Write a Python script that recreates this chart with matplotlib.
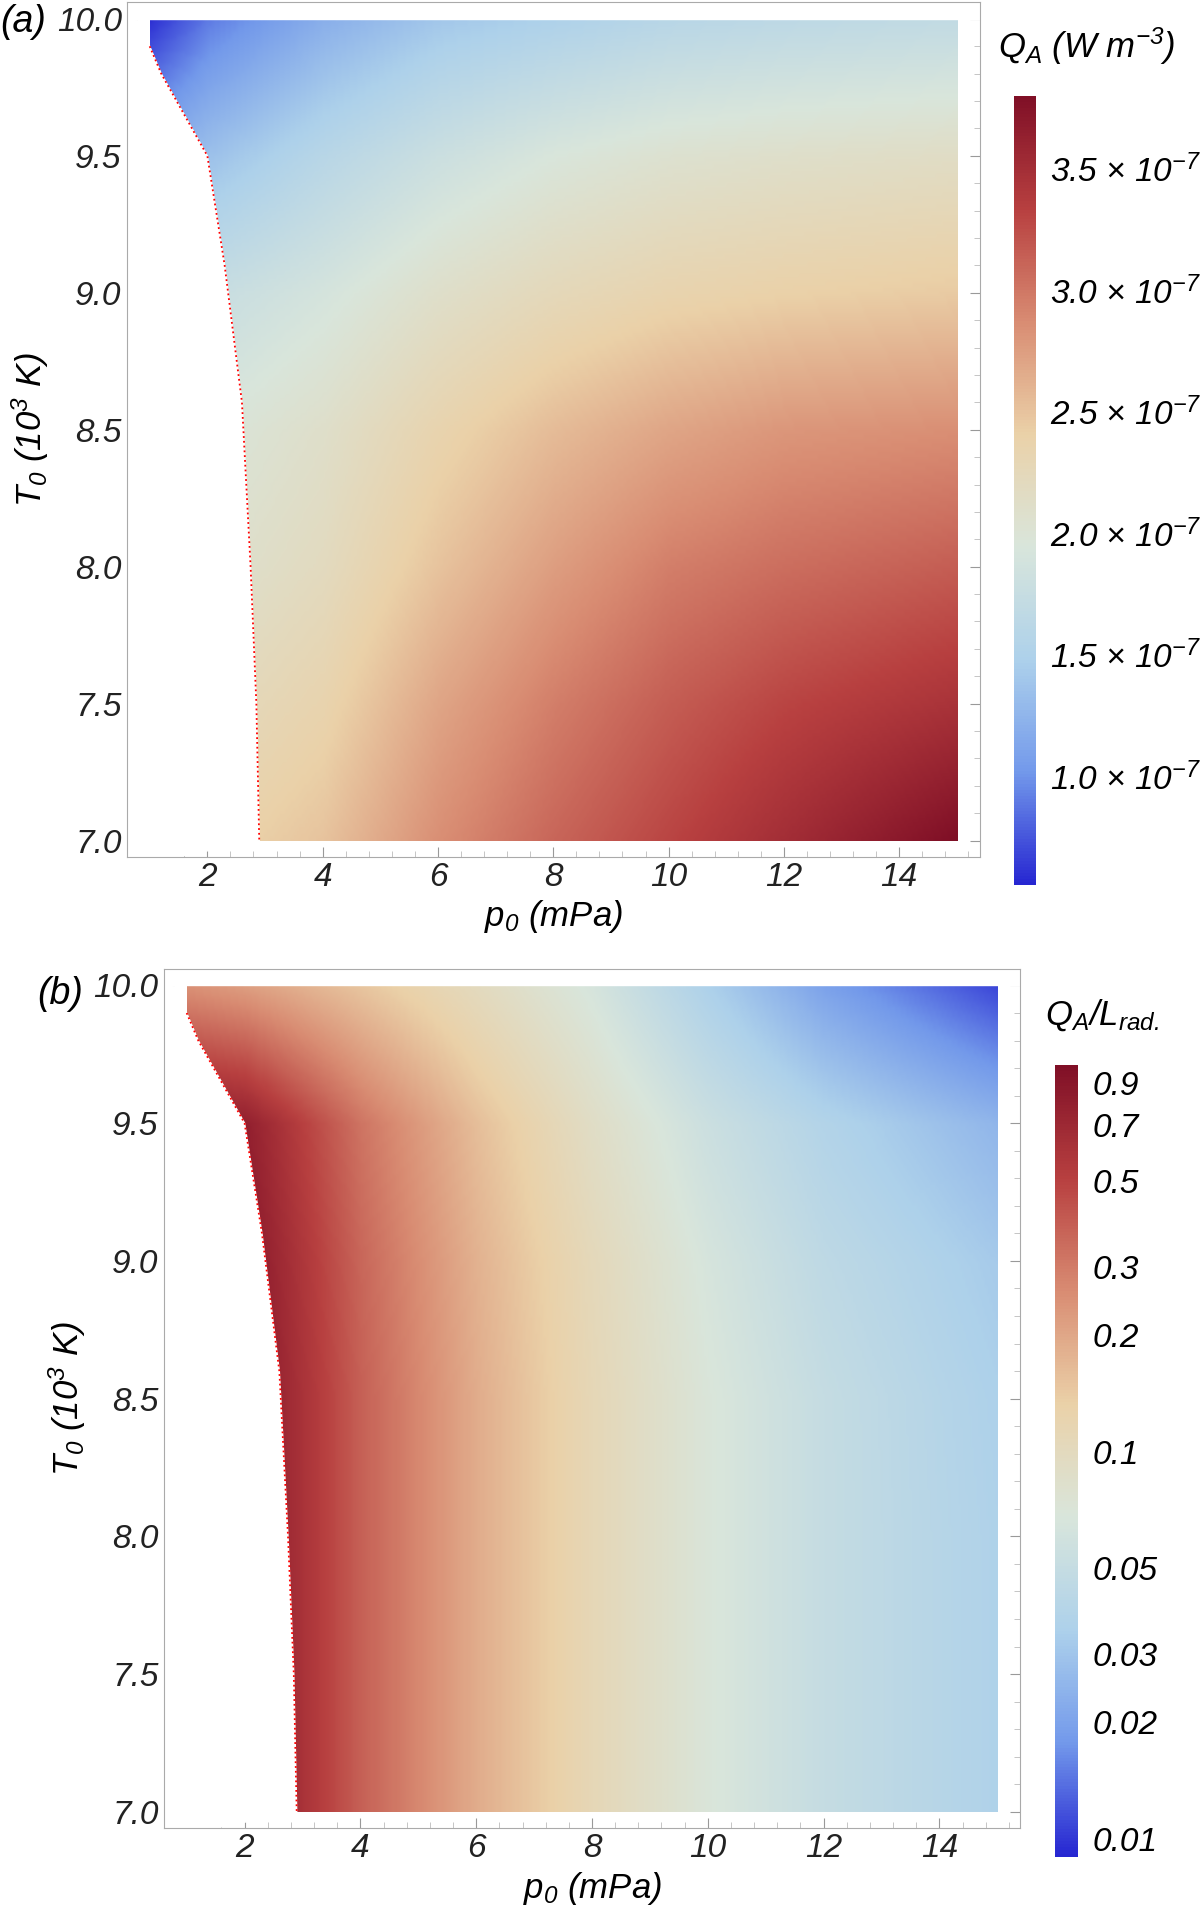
import numpy as np
import matplotlib.pyplot as plt
from matplotlib.colors import LinearSegmentedColormap, LogNorm, Normalize
from matplotlib.ticker import AutoMinorLocator, FixedLocator, NullLocator

plt.rcParams['font.family'] = 'Liberation Sans'
plt.rcParams['font.style'] = 'italic'
plt.rcParams['mathtext.fontset'] = 'custom'
plt.rcParams['mathtext.it'] = 'Liberation Sans:italic'
plt.rcParams['mathtext.rm'] = 'Liberation Sans:italic'
plt.rcParams['mathtext.default'] = 'it'

# grid nodes
p_nodes = [1, 2, 4, 6, 8, 10, 12, 15]
T_nodes = [7.0, 7.5, 8.0, 8.5, 9.0, 9.5, 10.0]

# Q_A in 1e-7 W m^-3 (rows: T_nodes, cols: p_nodes)
qa_vals = [
    [2.3, 2.35, 2.5, 2.85, 3.1, 3.3, 3.5, 3.8],
    [2.15, 2.2, 2.35, 2.7, 2.95, 3.15, 3.3, 3.45],
    [2.0, 2.05, 2.2, 2.5, 2.75, 2.95, 3.05, 3.15],
    [1.9, 1.95, 2.1, 2.35, 2.55, 2.7, 2.8, 2.85],
    [1.65, 1.75, 1.9, 2.1, 2.25, 2.35, 2.4, 2.45],
    [1.2, 1.35, 1.6, 1.8, 1.95, 2.05, 2.1, 2.15],
    [0.6, 0.9, 1.2, 1.4, 1.5, 1.6, 1.65, 1.7],
]

# Q_A / L_rad
ratio_vals = [
    [0.95, 0.95, 0.38, 0.19, 0.11, 0.07, 0.05, 0.036],
    [0.95, 0.95, 0.38, 0.19, 0.11, 0.07, 0.05, 0.036],
    [0.95, 0.95, 0.38, 0.19, 0.11, 0.07, 0.05, 0.036],
    [0.95, 0.95, 0.38, 0.19, 0.11, 0.07, 0.05, 0.035],
    [0.95, 0.9, 0.36, 0.18, 0.105, 0.065, 0.045, 0.032],
    [0.9, 0.8, 0.32, 0.16, 0.09, 0.055, 0.038, 0.025],
    [0.25, 0.22, 0.15, 0.1, 0.065, 0.035, 0.02, 0.011],
]

# left edge of the valid region
edge_p = [1.0, 1.2, 1.6, 2.0, 2.3, 2.6, 2.75, 2.85, 2.9]
edge_T = [9.9, 9.8, 9.65, 9.5, 9.1, 8.6, 8.0, 7.5, 7.0]

cmap = LinearSegmentedColormap.from_list('temp', [
    (0.15, 0.15, 0.82), (0.45, 0.6, 0.92), (0.68, 0.82, 0.92),
    (0.85, 0.9, 0.86), (0.92, 0.82, 0.66), (0.85, 0.55, 0.45),
    (0.72, 0.25, 0.25), (0.5, 0.06, 0.15)])

W, H = 976, 1568
fig = plt.figure(figsize=(12, 19.28), dpi=100)


def rect(l, t, r, b):
    return [l / W, 1 - b / H, (r - l) / W, (b - t) / H]


def fine_grid(vals, log=False):
    # piecewise linear resampling of the read nodes onto the plotting grid
    pf = np.linspace(1, 15, 300)
    Tf = np.linspace(7, 10, 200)
    v = np.array(vals, float)
    if log:
        v = np.log10(v)
    rows = np.array([np.interp(pf, p_nodes, r) for r in v])
    out = np.array([np.interp(Tf, T_nodes, rows[:, j]) for j in range(len(pf))]).T
    return 10 ** out if log else out


def panel(ax, vals, norm, log, label, lx, ly):
    data = fine_grid(vals, log)
    im = ax.imshow(data, origin='lower', extent=[1, 15, 7, 10], aspect='auto',
                   cmap=cmap, norm=norm, interpolation='bilinear')
    poly_p = [0.5] + edge_p + [0.5]
    poly_T = [10.1] + edge_T + [6.9]
    ax.fill(poly_p + [0.5], poly_T + [10.1], color='white', zorder=2)
    ax.fill_between([0.5, 15.5], 10.0, 10.2, color='white', zorder=2)
    ax.plot(edge_p, edge_T, color='red', ls=':', lw=1.3, zorder=3)
    ax.set_xlim(0.6, 15.4)
    ax.set_ylim(6.94, 10.06)
    ax.set_xticks([2, 4, 6, 8, 10, 12, 14])
    ax.set_yticks([7.0, 7.5, 8.0, 8.5, 9.0, 9.5, 10.0])
    ax.set_yticklabels(['7.0', '7.5', '8.0', '8.5', '9.0', '9.5', '10.0'])
    ax.xaxis.set_minor_locator(AutoMinorLocator(5))
    ax.yaxis.set_minor_locator(AutoMinorLocator(5))
    ax.tick_params(which='both', direction='in', top=True, right=True, labelsize=24, colors='#222222')
    ax.tick_params(which='major', length=7, color='#999999')
    ax.tick_params(which='minor', length=4, color='#bbbbbb')
    for s in ax.spines.values():
        s.set_color('#aaaaaa')
    ax.set_xlabel(r'$p_0$ (mPa)', fontsize=25)
    ax.set_ylabel(r'$T_0$ ($10^3$ K)', fontsize=25)
    fig.text(lx / W, 1 - ly / H, label, fontsize=27, va='center', ha='left')
    return im


ax1 = fig.add_axes(rect(103, 2, 797, 697))
im1 = panel(ax1, qa_vals, Normalize(0.55, 3.8), False, '(a)', 0, 18)
cax1 = fig.add_axes(rect(825, 78, 843, 720))
cb1 = fig.colorbar(im1, cax=cax1)
cb1.set_ticks([1.0, 1.5, 2.0, 2.5, 3.0, 3.5])
cb1.set_ticklabels([r'%.1f $\times$ 10$^{-7}$' % v for v in [1.0, 1.5, 2.0, 2.5, 3.0, 3.5]])
cb1.ax.tick_params(labelsize=24, length=0, pad=10)
cb1.outline.set_visible(False)
fig.text(812 / W, 1 - 38 / H, r'$Q_A$ (W m$^{-3}$)', fontsize=25, va='center')

ax2 = fig.add_axes(rect(133, 788, 830, 1487))
im2 = panel(ax2, ratio_vals, LogNorm(0.009, 1.0), True, '(b)', 30, 808)
cax2 = fig.add_axes(rect(858, 866, 877, 1510))
cb2 = fig.colorbar(im2, cax=cax2)
cb_ticks = [0.9, 0.7, 0.5, 0.3, 0.2, 0.1, 0.05, 0.03, 0.02, 0.01]
cb2.ax.yaxis.set_major_locator(FixedLocator(cb_ticks))
cb2.ax.yaxis.set_minor_locator(NullLocator())
cb2.ax.set_yticklabels([str(v) for v in cb_ticks])
cb2.ax.tick_params(labelsize=24, length=0, pad=10)
cb2.outline.set_visible(False)
fig.text(850 / W, 1 - 826 / H, r'$Q_A/L_{rad.}$', fontsize=25, va='center')

fig.savefig('out.png', dpi=100)
